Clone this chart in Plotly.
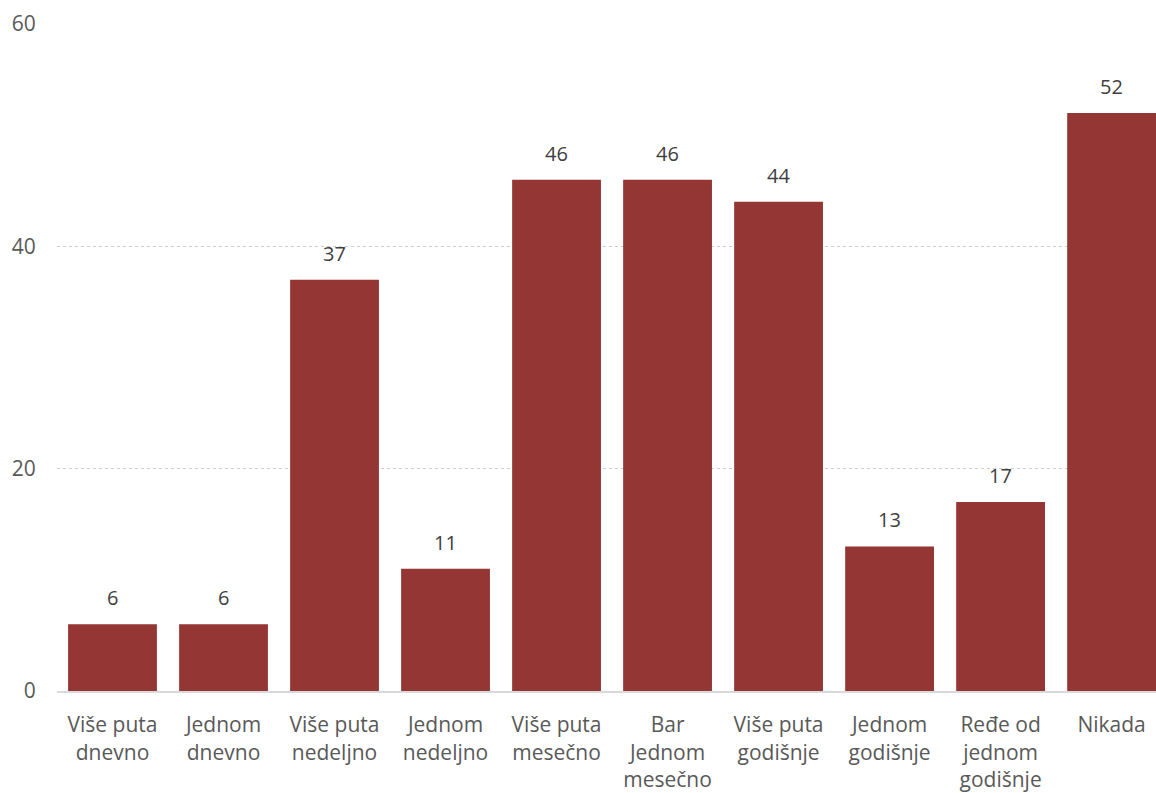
import plotly.graph_objects as go

categories = ["Više puta<br>dnevno", "Jednom<br>dnevno", "Više puta<br>nedeljno",
              "Jednom<br>nedeljno", "Više puta<br>mesečno", "Bar<br>Jednom<br>mesečno",
              "Više puta<br>godišnje", "Jednom<br>godišnje", "Ređe od<br>jednom<br>godišnje",
              "Nikada"]
values = [6, 6, 37, 11, 46, 46, 44, 13, 17, 52]
y_ticks = [0, 20, 40, 60]

FONT = "Open Sans"
BAR = "#943634"

fig = go.Figure()
fig.add_trace(go.Bar(x=categories, y=values, marker=dict(color=BAR, line=dict(width=0)),
                     hoverinfo="skip"))

for c, v in zip(categories, values):
    fig.add_annotation(x=c, y=v, text=str(v), showarrow=False, yanchor="bottom",
                       yshift=11, font=dict(family=FONT, size=20, color="#404040"))

fig.update_layout(
    width=1156, height=793,
    margin=dict(l=57, r=0, t=24, b=102),
    paper_bgcolor="white", plot_bgcolor="white",
    bargap=0.2, showlegend=False,
    font=dict(family=FONT, size=20, color="#595959"),
)
fig.update_xaxes(range=[-0.5, len(categories) - 0.6],
                 showgrid=False, showline=True, linecolor="#d9d9d9", linewidth=2,
                 ticks="outside", ticklen=14, tickcolor="rgba(0,0,0,0)", automargin=False,
                 tickfont=dict(family=FONT, size=21, color="#595959"), tickangle=0)
fig.update_yaxes(range=[0, 60], tickvals=y_ticks, showgrid=True, gridcolor="#cccccc",
                 griddash="dot", gridwidth=1, zeroline=False, showline=False,
                 ticks="outside", ticklen=16, tickcolor="rgba(0,0,0,0)", automargin=False,
                 tickfont=dict(family=FONT, size=21, color="#595959"))

fig.write_html("out.html", config={"displayModeBar": False},
               post_script="document.body.style.margin='0';document.body.style.overflow='hidden';")
